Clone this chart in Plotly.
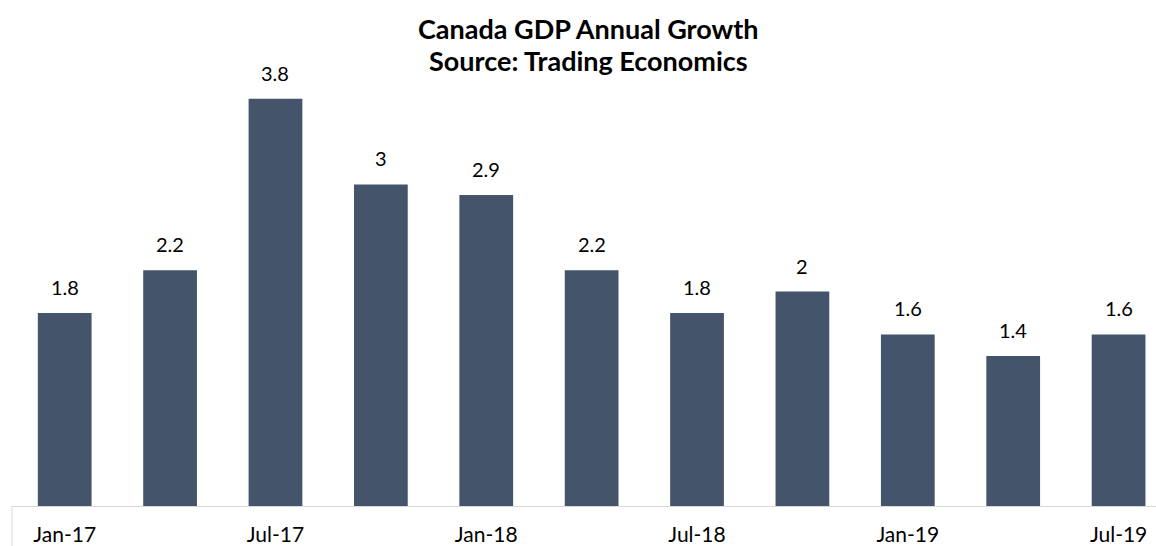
import plotly.graph_objects as go

# Quarterly year-over-year GDP growth (%)
quarters = ["Jan-17", "Apr-17", "Jul-17", "Oct-17", "Jan-18", "Apr-18",
            "Jul-18", "Oct-18", "Jan-19", "Apr-19", "Jul-19"]
growth = [1.8, 2.2, 3.8, 3, 2.9, 2.2, 1.8, 2, 1.6, 1.4, 1.6]
tick_labels = ["Jan-17", "Jul-17", "Jan-18", "Jul-18", "Jan-19", "Jul-19"]
title_lines = ["Canada GDP Annual Growth", "Source: Trading Economics"]

BAR_COLOR = "#44546A"
AXIS_GRAY = "#D9D9D9"
FONT = "Lato"

W, H = 1156, 546
M_L, M_R, M_T, M_B = 12, 0, 34, 40
PLOT_H = H - M_T - M_B
PLOT_W = W - M_L - M_R


def paper_y(py):
    return (H - M_B - py) / PLOT_H


def paper_x(px):
    return (px - M_L) / PLOT_W


fig = go.Figure(
    go.Bar(
        x=quarters,
        y=growth,
        marker=dict(color=BAR_COLOR, line=dict(width=0)),
        hoverinfo="x+y",
    )
)

# value labels above each bar
for q, v in zip(quarters, growth):
    fig.add_annotation(
        x=q, y=v, text=f"{v:g}", showarrow=False,
        xref="x", yref="y", yanchor="bottom", yshift=12,
        font=dict(family=FONT, size=20, color="#000000"),
    )

# two-line bold title
for line, py in zip(title_lines, [28, 61]):
    fig.add_annotation(
        x=paper_x(588), y=paper_y(py), xref="paper", yref="paper",
        xanchor="center", yanchor="middle", showarrow=False,
        text=f"<b>{line}</b>",
        font=dict(family=FONT, size=27, color="#000000"),
    )

fig.update_layout(
    width=W,
    height=H,
    margin=dict(l=M_L, r=M_R, t=M_T, b=M_B, autoexpand=False),
    paper_bgcolor="white",
    plot_bgcolor="white",
    bargap=0.49,
    showlegend=False,
    xaxis=dict(
        type="category",
        range=[-0.5, 10.355],
        tickmode="array",
        tickvals=tick_labels,
        ticktext=tick_labels,
        ticks="",
        showline=True,
        linecolor=AXIS_GRAY,
        linewidth=1,
        showgrid=False,
        automargin=False,
        ticklabelstandoff=10,
        tickfont=dict(family=FONT, size=21, color="#000000"),
    ),
    yaxis=dict(
        range=[0, 4.403],
        visible=False,
        showgrid=False,
        zeroline=False,
        automargin=False,
    ),
)

# left edge of the category axis box
fig.add_shape(
    type="line", xref="paper", yref="paper",
    x0=0, x1=0, y0=0, y1=-M_B / PLOT_H,
    line=dict(color=AXIS_GRAY, width=1),
)

fig.write_html("out.html")
